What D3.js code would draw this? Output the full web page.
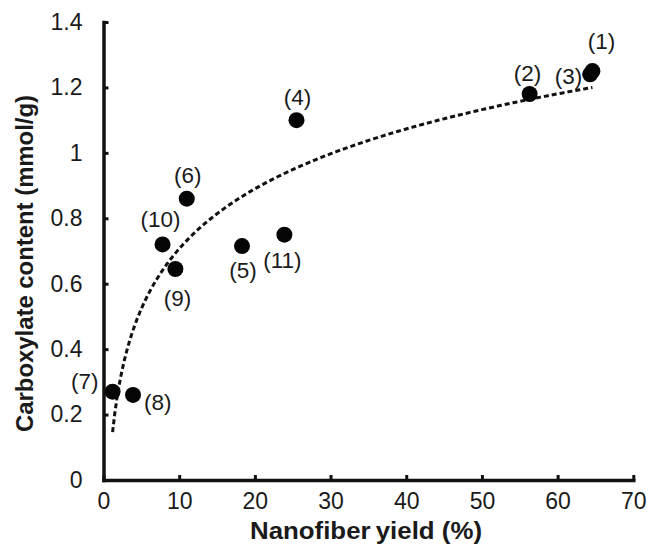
<!DOCTYPE html>
<html>
<head>
<meta charset="utf-8">
<script src="https://cdn.jsdelivr.net/npm/d3@7"></script>
<style>
  body { margin: 0; background: #fff; }
  text { font-family: "Liberation Sans", Arial, sans-serif; fill: #1a1a1a; }
</style>
</head>
<body>
<div id="chart"></div>
<script>
// sample numbers as printed next to the dots
const sampleLabels = ['(1)', '(2)', '(3)', '(4)', '(5)', '(6)', '(7)', '(8)', '(9)', '(10)', '(11)'];
// nanofiber yield (%)
const yieldPct = [64.6, 56.3, 64.3, 25.5, 18.3, 11.0, 1.2, 3.9, 9.5, 7.8, 23.9];
// carboxylate content (mmol/g)
const carboxylate = [1.25, 1.18, 1.24, 1.10, 0.715, 0.86, 0.27, 0.26, 0.645, 0.72, 0.75];

const xTicks = [0, 10, 20, 30, 40, 50, 60, 70];
const yTicks = [0, 0.2, 0.4, 0.6, 0.8, 1, 1.2, 1.4];
const yTickLabels = ['0', '0.2', '0.4', '0.6', '0.8', '1', '1.2', '1.4'];

const margin = { top: 22, left: 103.5, right: 17.7, bottom: 69 };
const width = 651 - margin.left - margin.right;
const height = 549 - margin.top - margin.bottom;

const svg = d3.select('#chart')
  .append('svg')
  .attr('width', 651)
  .attr('height', 549);

const g = svg.append('g')
  .attr('transform', `translate(${margin.left},${margin.top})`);

const xScale = d3.scaleLinear().domain([0, 70]).range([0, width]);
const yScale = d3.scaleLinear().domain([0, 1.4]).range([height, 0]);

// axes, ticks point inward
const xAxis = d3.axisBottom(xScale)
  .tickValues(xTicks)
  .tickFormat(d => d)
  .tickSizeInner(-5)
  .tickSizeOuter(0)
  .tickPadding(13);

const yAxis = d3.axisLeft(yScale)
  .tickValues(yTicks)
  .tickFormat((d, i) => yTickLabels[i])
  .tickSizeInner(-5)
  .tickSizeOuter(0)
  .tickPadding(21);

const gx = g.append('g')
  .attr('transform', `translate(0,${height})`)
  .call(xAxis);

const gy = g.append('g').call(yAxis);

[gx, gy].forEach(ax => {
  ax.select('.domain').attr('stroke', '#111').attr('stroke-width', 3.5).attr('stroke-linecap', 'square');
  ax.selectAll('.tick line').attr('stroke', '#111').attr('stroke-width', 3);
  ax.selectAll('.tick text')
    .style('font-family', '"Liberation Sans", Arial, sans-serif')
    .style('font-size', '23px')
    .attr('fill', '#1a1a1a');
});

// logarithmic trend line fitted to the points (least squares, y = a ln x + b)
const pts = yieldPct.map((x, i) => ({ x: x, y: carboxylate[i], label: sampleLabels[i] }));
const lnMean = d3.mean(pts, d => Math.log(d.x));
const yMean = d3.mean(pts, d => d.y);
const sxy = d3.sum(pts, d => (Math.log(d.x) - lnMean) * (d.y - yMean));
const sxx = d3.sum(pts, d => (Math.log(d.x) - lnMean) ** 2);
const slope = sxy / sxx;
const intercept = yMean - slope * lnMean;
const [xMin, xMax] = d3.extent(yieldPct);
const trendData = d3.range(0, 201).map(i => {
  const x = xMin + (xMax - xMin) * i / 200;
  return { x: x, y: slope * Math.log(x) + intercept };
});

const line = d3.line()
  .x(d => xScale(d.x))
  .y(d => yScale(d.y));

g.append('path')
  .datum(trendData)
  .attr('fill', 'none')
  .attr('stroke', '#111')
  .attr('stroke-width', 3)
  .attr('stroke-dasharray', '5,3')
  .attr('d', line);

// points
g.selectAll('.dot')
  .data(pts)
  .enter()
  .append('circle')
  .attr('class', 'dot')
  .attr('cx', d => xScale(d.x))
  .attr('cy', d => yScale(d.y))
  .attr('r', 8)
  .attr('fill', '#050505');

// where each sample label sits relative to its dot: [dx, dy, anchor]
const labelPlacement = {
  '(1)': [9, -22, 'middle'],
  '(2)': [-2, -13, 'middle'],
  '(3)': [-8, 10, 'end'],
  '(4)': [1, -15, 'middle'],
  '(5)': [1, 32, 'middle'],
  '(6)': [1, -16, 'middle'],
  '(7)': [-14, -3, 'end'],
  '(8)': [11, 15, 'start'],
  '(9)': [2, 37, 'middle'],
  '(10)': [-2, -17, 'middle'],
  '(11)': [-2, 33, 'middle']
};

g.selectAll('.lbl')
  .data(pts)
  .enter()
  .append('text')
  .attr('class', 'lbl')
  .attr('x', d => xScale(d.x) + labelPlacement[d.label][0])
  .attr('y', d => yScale(d.y) + labelPlacement[d.label][1])
  .attr('text-anchor', d => labelPlacement[d.label][2])
  .style('font-size', '22.5px')
  .text(d => d.label);

// axis titles
svg.append('text')
  .attr('x', 366)
  .attr('y', 539)
  .attr('text-anchor', 'middle')
  .attr('textLength', 232)
  .attr('lengthAdjust', 'spacingAndGlyphs')
  .style('font-size', '24.5px')
  .style('font-weight', 'bold')
  .text('Nanofiber\u2009yield (%)');

svg.append('text')
  .attr('transform', 'translate(33,263.5) rotate(-90)')
  .attr('text-anchor', 'middle')
  .attr('textLength', 337)
  .attr('lengthAdjust', 'spacingAndGlyphs')
  .style('font-size', '24.5px')
  .style('font-weight', 'bold')
  .text('Carboxylate content (mmol/g)');
</script>
</body>
</html>
